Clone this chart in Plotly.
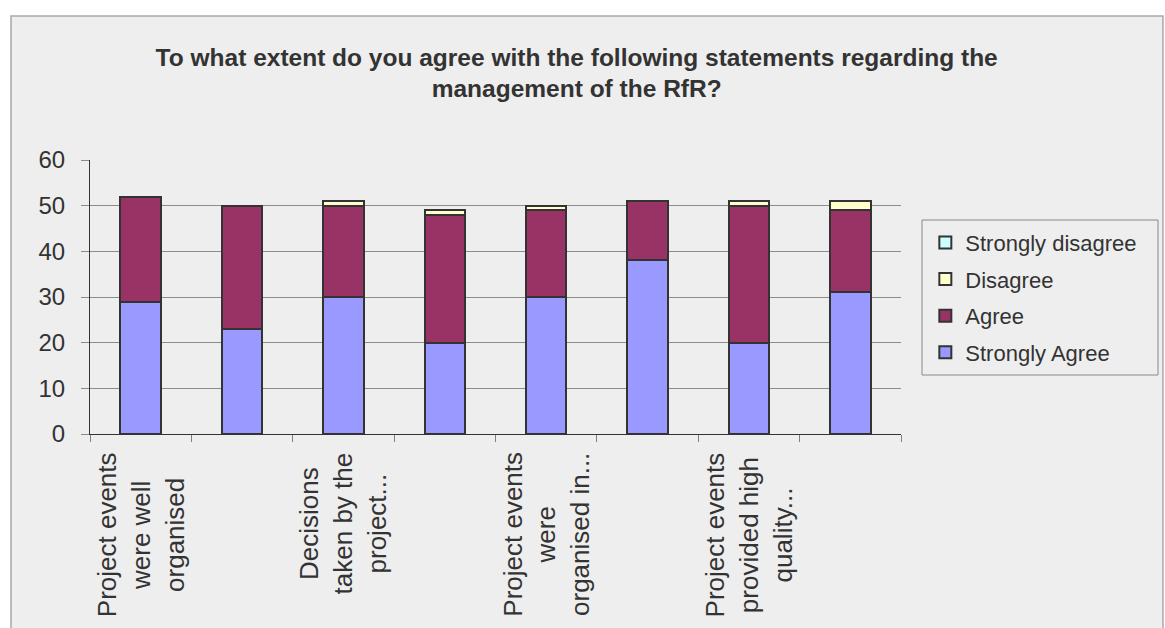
import plotly.graph_objects as go

# Survey statements (only every other one carries a visible label)
statement_labels = [
    "Project events<br>were well<br>organised",
    "",
    "Decisions<br>taken by the<br>project...",
    "",
    "Project events<br>were<br>organised in...",
    "",
    "Project events<br>provided high<br>quality...",
    "",
]

strongly_agree = [29, 23, 30, 20, 30, 38, 20, 31]
agree = [23, 27, 20, 28, 19, 13, 30, 18]
disagree = [0, 0, 1, 1, 1, 0, 1, 2]
strongly_disagree = [0, 0, 0, 0, 0, 0, 0, 0]

series = [
    ("Strongly Agree", strongly_agree, "#9999FF"),
    ("Agree", agree, "#993366"),
    ("Disagree", disagree, "#FFFFCC"),
    ("Strongly disagree", strongly_disagree, "#CCFFFF"),
]

x_pos = list(range(len(statement_labels)))
FONT = "Arial, Liberation Sans, sans-serif"
TEXT = "#333333"

fig = go.Figure()
for i, (name, vals, color) in enumerate(series):
    fig.add_trace(go.Bar(
        x=x_pos, y=vals, name=name, legendgroup=name,
        legendrank=len(series) - i,  # top of the stack listed first
        marker=dict(color=color, line=dict(color="#333333", width=2)),
    ))

# Category labels centred under each bar, rotated
for xp, lab in zip(x_pos, statement_labels):
    if lab:
        fig.add_annotation(
            x=xp, xref="x", y=0, yref="paper", yshift=-16,
            yanchor="top", xanchor="center", textangle=-90,
            text=lab, showarrow=False, align="center",
            font=dict(family=FONT, size=26, color=TEXT),
        )

# Chart frame
fig.add_shape(type="rect", xref="paper", yref="paper",
              x0=-0.0974, x1=1.3230, y0=-0.80, y1=1.5255,
              fillcolor="#eeeeee", line=dict(color="#a8a8a8", width=1.5),
              layer="below")
# Legend frame
fig.add_shape(type="rect", xref="paper", yref="paper",
              x0=1.0259, x1=1.3169, y0=0.2153, y1=0.7810,
              fillcolor="rgba(0,0,0,0)", line=dict(color="#888888", width=1),
              layer="above")

fig.update_layout(
    width=1165, height=628,
    margin=dict(l=90, r=264, t=160, b=194),
    paper_bgcolor="white", plot_bgcolor="#eeeeee",
    barmode="stack", bargap=0.6,
    title=dict(
        text="<b>To what extent do you agree with the following statements regarding the<br>management of the RfR?</b>",
        x=0.495, xref="container", xanchor="center",
        y=0.8957, yref="container", yanchor="middle",
        font=dict(family=FONT, size=24.5, color=TEXT),
    ),
    legend=dict(
        traceorder="grouped", tracegroupgap=5,
        x=1.03, xanchor="left", y=0.775, yanchor="top",
        bgcolor="rgba(0,0,0,0)", borderwidth=0,
        font=dict(family=FONT, size=22, color=TEXT),
    ),
    xaxis=dict(
        range=[-0.5, len(x_pos) - 0.5],
        showgrid=False, showticklabels=False, zeroline=False,
        tickmode="array", tickvals=[v - 0.5 for v in x_pos] + [len(x_pos) - 0.5],
        ticks="outside", ticklen=7, tickcolor="#808080", tickwidth=1,
        showline=True, linecolor="#333333", linewidth=1,
    ),
    yaxis=dict(
        range=[0, 60], dtick=10, tickmode="linear", tick0=0,
        showgrid=True, gridcolor="#8c8c8c", gridwidth=1, zeroline=False,
        ticks="outside", ticklen=8, tickcolor="#8c8c8c",
        ticklabelstandoff=11,
        showline=True, linecolor="#333333", linewidth=1,
        tickfont=dict(family=FONT, size=24, color=TEXT),
    ),
)

fig.write_html("out.html")
